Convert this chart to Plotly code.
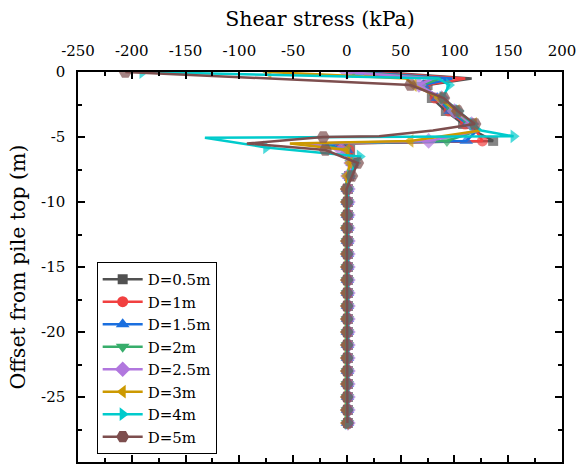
import plotly.graph_objects as go

# ---------------- data ----------------
SERIES_NAMES = ["D=0.5m", "D=1m", "D=1.5m", "D=2m", "D=2.5m", "D=3m", "D=4m", "D=5m"]

DEPTH_DEEP = [-9, -10, -11, -12, -13, -14, -15, -16, -17, -18, -19, -20,
              -21, -22, -23, -24, -25, -26, -27]

# depth nodes (m) of the upper part
DEPTH_A = [0, -0.5, -1, -2, -3, -4, -4.5, -5.3, -5.5, -6, -7, -8]              # D=0.5..3 m
DEPTH_CYAN = [0, -0.5, -1, -2, -3, -4, -4.5, -4.95, -5.05, -5.8, -6.5, -7, -8]  # D=4 m
DEPTH_BROWN = [0, -1, -2, -3, -4, -4.5, -4.95, -5, -5.5, -6, -7, -8]            # D=5 m

# shear stress (kPa), upper part
TAU_D05 = [30, 116, 75, 79, 92, 108, 118, 136, -5, 3, 6, 2]
TAU_D1 = [20, 110, 73, 82, 95, 110, 120, 126, -12, 2, 5, 2]
TAU_D15 = [10, 98, 71, 84, 96, 112, 121, 111, -20, 0, 5, 2]
TAU_D2 = [5, 87, 69, 86, 98, 114, 122, 93, -28, -2, 4, 1]
TAU_D25 = [0, 80, 67, 88, 100, 116, 123, 76, -38, -5, 4, 1]
TAU_D3 = [-73, 55, 62, 86, 102, 118, 124, 59, -53, 0, 3, 0]
TAU_D4 = [-190, 85, 95, 89, 104, 117, 125, 155, -132, -75, 12, 8, 3]
TAU_D5 = [-206, 59, 90, 103, 119, 80, 30, -22, -93, -20, 10, 4.5]

# shear stress (kPa), deep part (-9 .. -27 m)
DEEP_D05 = [1, 1, 1, 1, 1, 1, 1, 1, 1, 1, 1, 1, 1, 1, 1, 1, 1, 1, 1]
DEEP_D1 = [1, 1, 1, 1, 1, 1, 1, 1, 1, 1, 1, 1, 1, 1, 1, 1, 1, 1, 1]
DEEP_D15 = [0.5, 0.5, 0.5, 0.5, 0.5, 0.5, 0.5, 0.5, 0.5, 0.5, 0.5, 0.5, 0.5, 0.5, 0.5, 0.5, 0.5, 0.5, 0.5]
DEEP_D2 = [0.5, 0.5, 0.5, 0.5, 0.5, 0.5, 0.5, 0.5, 0.5, 0.5, 0.5, 0.5, 0.5, 0.5, 0.5, 0.5, 0.5, 0.5, 0.5]
DEEP_D25 = [1, 1, 1, 1, 1, 1, 1, 1, 1, 1, 1, 1, 1, 1, 1, 1, 1, 1, 1]
DEEP_D3 = [-1, -1, -1, -1, -1, -1, -1, -1, -1, -1, -1, -1, -1, -1, -1, -1, -1, -1, -1]
DEEP_D4 = [1, 1, 1, 1, 1, 1, 1, 1, 1, 1, 1, 1, 1, 1, 1, 1, 1, 1, 1]
DEEP_D5 = [-0.3, 0, 0, 0, 0, 0, 0, 0, 0, 0, 0, 0, 0, 0, 0, 0, 0, 0, 0.5]

X_TICKS = [-250, -200, -150, -100, -50, 0, 50, 100, 150, 200]
X_LABELS = ["-250", "-200", "-150", "-100", "-50", "0", "50", "100", "150", "200"]
Y_TICKS = [0, -5, -10, -15, -20, -25, -30]
Y_LABELS = ["0", "-5", "-10", "-15", "-20", "-25", "-30"]

# ---------------- styles ----------------
COLORS = ["#515151", "#F14040", "#1A6FDF", "#37AD6B", "#B177DE", "#CC9900", "#00CBCC", "#7D4E4E"]
SYMBOLS = ["square", "circle", "triangle-up", "triangle-down", "diamond",
           "triangle-left", "triangle-right", "hexagon2"]
MSIZE = [10, 11, 12, 12, 12, 12, 12, 13]
HIDDEN_A = {-0.5, -4.5, -5.5}
HIDDEN = [HIDDEN_A] * 6 + [{-0.5, -4.5, -5.05}, {-4.5, -4.95, -5.5}]

depths = [DEPTH_A] * 6 + [DEPTH_CYAN, DEPTH_BROWN]
taus = [TAU_D05, TAU_D1, TAU_D15, TAU_D2, TAU_D25, TAU_D3, TAU_D4, TAU_D5]
deeps = [DEEP_D05, DEEP_D1, DEEP_D15, DEEP_D2, DEEP_D25, DEEP_D3, DEEP_D4, DEEP_D5]

FONT = "DejaVu Serif"
fig = go.Figure()

for i, name in enumerate(SERIES_NAMES):
    yv = list(depths[i]) + DEPTH_DEEP
    xv = list(taus[i]) + deeps[i]
    sizes = [0 if d in HIDDEN[i] else MSIZE[i] for d in yv]
    fig.add_trace(go.Scatter(
        x=xv, y=yv, mode="lines+markers", showlegend=False,
        line=dict(color=COLORS[i], width=2.5),
        marker=dict(symbol=SYMBOLS[i], size=sizes, color=COLORS[i], line=dict(width=0)),
    ))

for i, name in enumerate(SERIES_NAMES):
    fig.add_trace(go.Scatter(
        x=[None], y=[None], mode="lines+markers", name=name,
        line=dict(color=COLORS[i], width=2.5),
        marker=dict(symbol=SYMBOLS[i], size=MSIZE[i], color=COLORS[i], line=dict(width=0)),
    ))

axis_common = dict(
    showline=True, linecolor="black", linewidth=1.5, mirror="ticks",
    ticks="inside", ticklen=7, tickwidth=1.5, tickcolor="black",
    showgrid=False, zeroline=False, automargin=False,
    tickfont=dict(family=FONT, size=15, color="black"),
)

fig.update_layout(
    width=584, height=466,
    margin=dict(l=78, r=22, t=72, b=4),
    paper_bgcolor="white", plot_bgcolor="white",
    font=dict(family=FONT, color="black"),
    xaxis=dict(
        range=[-250, 200], side="top", tickvals=X_TICKS, ticktext=X_LABELS,
        minor=dict(ticks="inside", ticklen=4, tickwidth=1.5, dtick=25, tick0=0, tickcolor="black"),
        title=dict(text="Shear stress (kPa)", font=dict(family=FONT, size=20.5, color="black"), standoff=10),
        ticklabelstandoff=8,
        **axis_common,
    ),
    yaxis=dict(
        range=[-30, 0], tickvals=Y_TICKS, ticktext=Y_LABELS,
        minor=dict(ticks="inside", ticklen=4, tickwidth=1.5, dtick=2.5, tick0=0, tickcolor="black"),
        title=dict(text="Offset from pile top (m)", font=dict(family=FONT, size=20.5, color="black"), standoff=10),
        ticklabelstandoff=8,
        **axis_common,
    ),
    legend=dict(
        x=0.0386, y=0.513, xanchor="left", yanchor="top",
        bgcolor="white", bordercolor="black", borderwidth=1,
        font=dict(family=FONT, size=15, color="black"),
        itemwidth=40, tracegroupgap=0,
    ),
)

fig.write_html("out.html")
